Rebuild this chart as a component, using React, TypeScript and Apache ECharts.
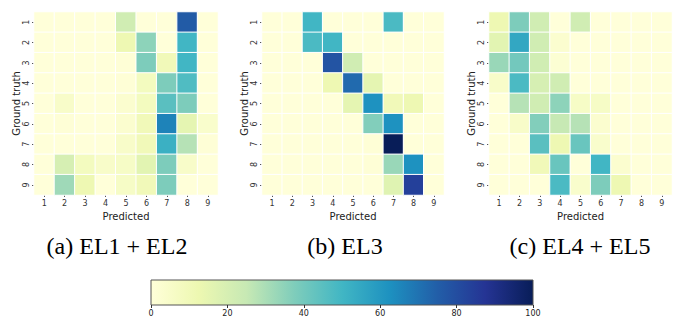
import React, { useEffect, useRef } from "react";
import * as echarts from "echarts";

const labels = ["1", "2", "3", "4", "5", "6", "7", "8", "9"];
const captions = ["(a) EL1 + EL2", "(b) EL3", "(c) EL4 + EL5"];
const colorTicks = [0, 20, 40, 60, 80, 100];
const ylgnbu = ["#ffffd9", "#edf8b1", "#c7e9b4", "#7fcdbb", "#41b6c4", "#1d91c0", "#225ea8", "#253494", "#081d58"];

// rows = ground truth 1..9, cols = predicted 1..9 (percent)
const el12 = [
  [0, 0, 0, 0, 22, 0, 0, 76, 0],
  [0, 0, 0, 0, 12, 35, 0, 50, 0],
  [0, 0, 0, 0, 1, 38, 10, 50, 0],
  [0, 0, 0, 0, 1, 8, 38, 47, 0],
  [0, 5, 0, 0, 3, 8, 45, 38, 0],
  [0, 1, 0, 0, 3, 10, 66, 15, 4],
  [0, 0, 0, 0, 5, 10, 52, 28, 1],
  [0, 20, 8, 5, 6, 16, 38, 5, 0],
  [0, 32, 12, 0, 6, 10, 38, 0, 0],
];
const el3 = [
  [0, 0, 50, 0, 0, 0, 48, 0, 0],
  [0, 0, 48, 50, 0, 0, 0, 0, 0],
  [0, 0, 0, 78, 22, 0, 0, 0, 0],
  [0, 0, 0, 12, 72, 15, 0, 0, 0],
  [0, 0, 0, 0, 15, 62, 10, 12, 0],
  [0, 0, 0, 0, 0, 37, 62, 0, 0],
  [0, 0, 0, 0, 0, 1, 100, 0, 0],
  [0, 0, 0, 0, 0, 1, 33, 62, 0],
  [0, 0, 0, 0, 0, 0, 17, 84, 0],
];
const el45 = [
  [12, 38, 22, 0, 22, 0, 0, 0, 0],
  [16, 55, 22, 3, 0, 0, 0, 0, 0],
  [33, 40, 22, 2, 0, 0, 0, 0, 0],
  [5, 48, 20, 22, 0, 0, 0, 0, 0],
  [0, 28, 22, 35, 6, 6, 0, 0, 0],
  [0, 5, 37, 25, 28, 3, 0, 0, 0],
  [0, 0, 45, 12, 42, 4, 0, 0, 0],
  [0, 0, 10, 42, 0, 50, 3, 0, 0],
  [0, 0, 0, 48, 4, 38, 12, 0, 0],
];

const matrices = [el12, el3, el45];
const grids = [
  { left: 34, width: 184 },
  { left: 262, width: 182 },
  { left: 489, width: 183 },
];
const captionX = [117, 345, 580];

export default function App() {
  const ref = useRef<HTMLDivElement>(null);
  useEffect(() => {
    if (!ref.current) return;
    const chart = echarts.init(ref.current, undefined, { renderer: "svg" });
    const font = "DejaVu Sans";
    const gridOpts: any[] = grids.map((g) => ({ left: g.left, width: g.width, top: 12, height: 183 }));
    gridOpts.push({
      left: 151,
      width: 382,
      top: 280,
      height: 25,
      show: true,
      borderColor: "#555",
      borderWidth: 1,
      backgroundColor: {
        type: "linear",
        x: 0,
        y: 0,
        x2: 1,
        y2: 0,
        colorStops: ylgnbu.map((c, i) => ({ offset: i / (ylgnbu.length - 1), color: c })),
      },
    });
    const xAxes: any[] = grids.map((_, i) => ({
      type: "category",
      gridIndex: i,
      data: labels,
      name: "Predicted",
      nameLocation: "middle",
      nameGap: 13,
      nameTextStyle: { fontFamily: font, fontSize: 10, color: "#222" },
      axisLine: { show: false },
      axisTick: { show: true, alignWithLabel: true, length: 2, lineStyle: { color: "#555" } },
      axisLabel: { fontFamily: font, fontSize: 8, color: "#333", margin: 4 },
      splitLine: { show: false },
    }));
    xAxes.push({
      type: "value",
      gridIndex: 3,
      min: colorTicks[0],
      max: colorTicks[colorTicks.length - 1],
      interval: 20,
      axisLine: { show: false },
      axisTick: { show: true, length: 3, lineStyle: { color: "#333" } },
      axisLabel: { fontFamily: font, fontSize: 8, color: "#222", margin: 4 },
      splitLine: { show: false },
    });
    const yAxes: any[] = grids.map((_, i) => ({
      type: "category",
      gridIndex: i,
      data: labels,
      inverse: true,
      name: "Ground truth",
      nameLocation: "middle",
      nameGap: 11,
      nameTextStyle: { fontFamily: font, fontSize: 10, color: "#222" },
      axisLine: { show: false },
      axisTick: { show: true, alignWithLabel: true, length: 2, lineStyle: { color: "#555" } },
      axisLabel: { fontFamily: font, fontSize: 8, color: "#333", margin: 4, rotate: 90 },
      splitLine: { show: false },
    }));
    yAxes.push({ type: "value", gridIndex: 3, show: false, min: 0, max: 1 });

    const series: any[] = matrices.map((m, i) => {
      const data: number[][] = [];
      m.forEach((row, r) => row.forEach((v, c) => data.push([c, r, v])));
      return {
        type: "heatmap",
        xAxisIndex: i,
        yAxisIndex: i,
        data,
        itemStyle: { borderColor: "#ffffff", borderWidth: 1 },
        emphasis: { disabled: true },
      };
    });
    series.push({ type: "line", xAxisIndex: 3, yAxisIndex: 3, data: [], silent: true });

    chart.setOption({
      animation: false,
      backgroundColor: "#ffffff",
      grid: gridOpts,
      xAxis: xAxes,
      yAxis: yAxes,
      visualMap: {
        show: false,
        type: "continuous",
        min: 0,
        max: 100,
        seriesIndex: [0, 1, 2],
        inRange: { color: ylgnbu },
      },
      series,
      graphic: captions.map((t, i) => ({
        type: "text",
        x: captionX[i],
        y: 246,
        style: {
          text: t,
          fontFamily: "Liberation Serif",
          fontSize: 24,
          fill: "#000",
          textAlign: "center",
          textVerticalAlign: "middle",
        },
      })),
    });
    return () => chart.dispose();
  }, []);
  return <div ref={ref} style={{ position: "fixed", left: 0, top: 0, width: 673, height: 320 }} />;
}
